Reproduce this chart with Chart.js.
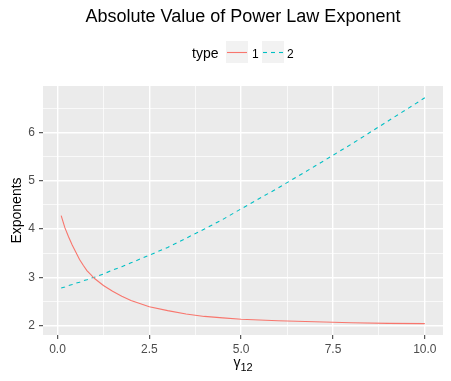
<!DOCTYPE html>
<html><head><meta charset="utf-8">
<script src="https://cdn.jsdelivr.net/npm/chart.js@4.4.0/dist/chart.umd.min.js"></script>
<style>html,body{margin:0;padding:0;background:#fff;overflow:hidden}#wrap{width:451px;height:381px;position:relative}</style>
</head><body><div id="wrap"><canvas id="c" width="451" height="381"></canvas></div>
<script>
const titleText = "Absolute Value of Power Law Exponent";
const legendTitle = "type";
const seriesNames = ["1", "2"];
const xValues = [0.1,0.2,0.3,0.4,0.5,0.6,0.7,0.8,0.9,1.0,1.25,1.5,1.75,2.0,2.5,3.0,3.5,4.0,4.5,5.0,6.0,7.0,8.0,9.0,10.0];
const type1 = [4.28,4.03,3.84,3.67,3.52,3.37,3.25,3.14,3.06,2.98,2.83,2.71,2.61,2.52,2.39,2.31,2.24,2.19,2.16,2.13,2.10,2.08,2.06,2.045,2.04];
const type2 = [2.78,2.80,2.83,2.85,2.88,2.90,2.93,2.95,2.98,3.00,3.07,3.15,3.22,3.30,3.46,3.62,3.81,4.00,4.20,4.42,4.85,5.30,5.76,6.24,6.72];
const xTicks = [0, 2.5, 5, 7.5, 10];
const xMinor = [1.25, 3.75, 6.25, 8.75];
const yTicks = [2, 3, 4, 5, 6];
const yMinor = [2.5, 3.5, 4.5, 5.5, 6.5];
const xTitle = "γ";
const xTitleSub = "12";
const yTitle = "Exponents";

const colors = ["#F8766D", "#00BFC4"];
const dashes = [[], [4, 4]];
const FONT = '"Liberation Sans", Arial, sans-serif';

const isMajor = (v, arr) => arr.some(t => Math.abs(t - v) < 1e-9);

const decor = {
  id: 'decor',
  afterDraw(chart) {
    const ctx = chart.ctx, ca = chart.chartArea;
    ctx.save();
    // title
    ctx.fillStyle = '#000';
    ctx.font = '18px ' + FONT;
    ctx.textAlign = 'center';
    ctx.textBaseline = 'alphabetic';
    ctx.fillText(titleText, (ca.left + ca.right) / 2, 22);
    // legend
    ctx.textAlign = 'left';
    ctx.font = '14px ' + FONT;
    ctx.fillText(legendTitle, 192, 57.5);
    const boxX = [226, 262];
    const labX = [252, 287];
    chart.data.datasets.forEach((ds, i) => {
      ctx.fillStyle = '#F2F2F2';
      ctx.fillRect(boxX[i], 41, 22, 22);
      ctx.strokeStyle = ds.borderColor;
      ctx.lineWidth = 1.1;
      ctx.setLineDash(ds.borderDash || []);
      ctx.beginPath();
      ctx.moveTo(boxX[i] + 1, 52.5);
      ctx.lineTo(boxX[i] + 21, 52.5);
      ctx.stroke();
      ctx.setLineDash([]);
      ctx.fillStyle = '#000';
      ctx.font = '12px ' + FONT;
      ctx.fillText(ds.label, labX[i], 57.5);
    });
    // y title
    ctx.save();
    ctx.translate(20.5, (ca.top + ca.bottom) / 2);
    ctx.rotate(-Math.PI / 2);
    ctx.textAlign = 'center';
    ctx.font = '14px ' + FONT;
    ctx.fillStyle = '#000';
    ctx.fillText(yTitle, 0, 0);
    ctx.restore();
    // x title with subscript
    ctx.font = '14px ' + FONT;
    const w1 = ctx.measureText(xTitle).width;
    ctx.font = '11px ' + FONT;
    const w2 = ctx.measureText(xTitleSub).width;
    const cx = (ca.left + ca.right) / 2;
    const x0 = cx - (w1 + w2) / 2;
    ctx.fillStyle = '#000';
    ctx.font = '14px ' + FONT;
    ctx.fillText(xTitle, x0, 367.3);
    ctx.font = '11px ' + FONT;
    ctx.fillText(xTitleSub, x0 + w1, 370.7);
    ctx.restore();
  }
};

const panelBg = {
  id: 'panelBg',
  beforeDraw(chart) {
    const ctx = chart.ctx, ca = chart.chartArea;
    ctx.save();
    ctx.fillStyle = '#fff';
    ctx.fillRect(0, 0, chart.width, chart.height);
    ctx.fillStyle = '#EBEBEB';
    ctx.fillRect(ca.left, ca.top, ca.right - ca.left, ca.bottom - ca.top);
    ctx.restore();
  }
};

new Chart(document.getElementById('c'), {
  type: 'scatter',
  data: {
    datasets: [
      { label: seriesNames[0], data: xValues.map((x, i) => ({x, y: type1[i]})), borderColor: colors[0], borderDash: dashes[0] },
      { label: seriesNames[1], data: xValues.map((x, i) => ({x, y: type2[i]})), borderColor: colors[1], borderDash: dashes[1] }
    ].map(d => Object.assign(d, { showLine: true, borderWidth: 1.1, pointRadius: 0, tension: 0, fill: false }))
  },
  options: {
    responsive: false,
    animation: false,
    devicePixelRatio: 1,
    layout: { padding: { top: 86, right: 8, left: 0, bottom: 0 } },
    plugins: { legend: { display: false }, title: { display: false }, tooltip: { enabled: false } },
    scales: {
      x: {
        type: 'linear', min: -0.395, max: 10.495,
        afterBuildTicks: ax => { ax.ticks = [...xTicks, ...xMinor].sort((a, b) => a - b).map(v => ({ value: v })); },
        afterFit: s => { s.height = 46; },
        ticks: {
          autoSkip: false, maxRotation: 0, padding: 3, color: '#4D4D4D',
          font: { family: FONT, size: 12 },
          callback: v => isMajor(v, xTicks) ? v.toFixed(1) : ''
        },
        grid: {
          color: '#FFFFFF',
          lineWidth: c => isMajor(c.tick.value, xTicks) ? 1.4 : 0.7,
          tickColor: c => isMajor(c.tick.value, xTicks) ? '#333333' : 'rgba(0,0,0,0)',
          tickLength: 4, tickWidth: 1
        },
        border: { display: false }
      },
      y: {
        type: 'linear', min: 1.805, max: 6.965,
        afterBuildTicks: ax => { ax.ticks = [...yTicks, ...yMinor].sort((a, b) => a - b).map(v => ({ value: v })); },
        afterFit: s => { s.width = 43; },
        ticks: {
          autoSkip: false, padding: 4, color: '#4D4D4D',
          font: { family: FONT, size: 12 },
          callback: v => isMajor(v, yTicks) ? String(v) : ''
        },
        grid: {
          color: '#FFFFFF',
          lineWidth: c => isMajor(c.tick.value, yTicks) ? 1.4 : 0.7,
          tickColor: c => isMajor(c.tick.value, yTicks) ? '#333333' : 'rgba(0,0,0,0)',
          tickLength: 4, tickWidth: 1
        },
        border: { display: false }
      }
    }
  },
  plugins: [panelBg, decor]
});
</script></body></html>
